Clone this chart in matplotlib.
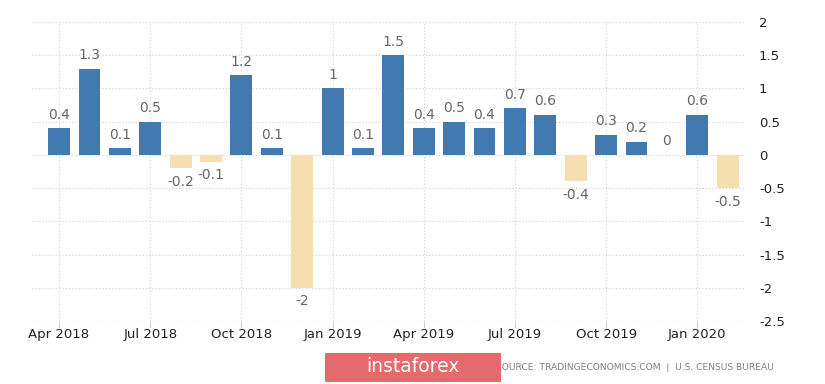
import numpy as np
import matplotlib.pyplot as plt
from matplotlib.patches import Rectangle

# monthly values, Apr 2018 .. Feb 2020
months = ['Apr 2018', 'May 2018', 'Jun 2018', 'Jul 2018', 'Aug 2018', 'Sep 2018',
          'Oct 2018', 'Nov 2018', 'Dec 2018', 'Jan 2019', 'Feb 2019', 'Mar 2019',
          'Apr 2019', 'May 2019', 'Jun 2019', 'Jul 2019', 'Aug 2019', 'Sep 2019',
          'Oct 2019', 'Nov 2019', 'Dec 2019', 'Jan 2020', 'Feb 2020']
values = [0.4, 1.3, 0.1, 0.5, -0.2, -0.1, 1.2, 0.1, -2, 1, 0.1, 1.5,
          0.4, 0.5, 0.4, 0.7, 0.6, -0.4, 0.3, 0.2, 0, 0.6, -0.5]
value_labels = ['0.4', '1.3', '0.1', '0.5', '-0.2', '-0.1', '1.2', '0.1', '-2', '1', '0.1', '1.5',
                '0.4', '0.5', '0.4', '0.7', '0.6', '-0.4', '0.3', '0.2', '0', '0.6', '-0.5']
tick_idx = [0, 3, 6, 9, 12, 15, 18, 21]
y_ticks = [2, 1.5, 1, 0.5, 0, -0.5, -1, -1.5, -2, -2.5]

blue = '#4179b1'
tan = '#f5deb0'
txt = '#666666'

fig = plt.figure(figsize=(8.25, 3.84), dpi=100)
ax = fig.add_axes([32 / 825, 63 / 384, 713 / 825, 299 / 384])

x = np.arange(len(values))
colors = [blue if v >= 0 else tan for v in values]
ax.bar(x, values, width=0.72, color=colors, zorder=3)

# value labels above / below bars
for xi, v, lab in zip(x, values, value_labels):
    if v >= 0:
        ax.text(xi, v + 0.1, lab, ha='center', va='bottom', fontsize=10, color=txt)
    else:
        ax.text(xi, v - 0.1, lab, ha='center', va='top', fontsize=10, color=txt)

ax.set_xlim(-0.89, 22.57)
ax.set_ylim(-2.5, 2)
ax.set_yticks(y_ticks)
ax.set_yticklabels([('%g' % t) for t in y_ticks])
ax.yaxis.tick_right()
ax.set_xticks(tick_idx)
ax.set_xticklabels([months[i] for i in tick_idx])

ax.grid(True, linestyle=(0, (1, 2)), color='#d0d0d0', linewidth=0.8, zorder=0)
for s in ax.spines.values():
    s.set_visible(False)
ax.axhline(-2.5, color='#d0d0d0', linestyle=(0, (1, 2)), linewidth=0.8)
ax.tick_params(axis='y', length=0, pad=10, labelsize=9.5, labelcolor='#222222')
ax.tick_params(axis='x', length=5, color='#d0d0d0', width=0.8, pad=0,
               labelsize=9.5, labelcolor='#222222')

# source note and logo
fig.text(496 / 825, 1 - 368 / 384, 'SOURCE: TRADINGECONOMICS.COM  |  U.S. CENSUS BUREAU',
         fontsize=6.6, color='#808080', va='center', ha='left')
fig.patches.append(Rectangle((325 / 825, 1 - 382 / 384), 176 / 825, 29 / 384,
                             transform=fig.transFigure, facecolor='#e46a6c',
                             edgecolor='none', zorder=5))
fig.text(413 / 825, 1 - 367 / 384, 'instaforex', fontsize=13.5, color='white',
         ha='center', va='center', zorder=6)

fig.savefig('out.png', dpi=100)
